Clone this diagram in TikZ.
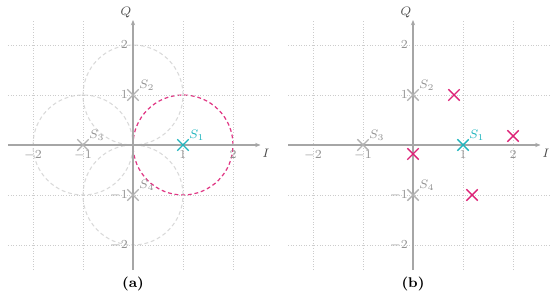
\documentclass[tikz,border=0pt]{standalone}
\usepackage{amsmath, amssymb}
\usepackage{tikz}
\usetikzlibrary{arrows.meta, positioning, shapes.misc}

\definecolor{symCyan}{HTML}{1FB5BE}
\definecolor{symMag}{HTML}{DD2277}

\begin{document}
\begin{tikzpicture}[>={Stealth[length=3pt, width=2.4pt]}, font=\scriptsize,
    gridline/.style={gray!40, densely dotted, line width=0.5pt},
    axis/.style={gray!70, line width=0.75pt},
    tick/.style={text=gray!85, inner sep=1pt},
    ring/.style={gray!30, line width=0.6pt, dash pattern=on 2.2pt off 1.6pt},
    xmark/.style={cross out, draw, minimum size=0.2cm, inner sep=0pt,
                  line width=0.8pt},
    symlabel/.style={inner sep=0.5pt}]
  \useasboundingbox (-2.66,-3.02) rectangle (8.34,2.9);

  % (a) decision circles
  \draw[ring] (0,1) circle (1);
  \draw[ring] (-1,0) circle (1);
  \draw[ring] (0,-1) circle (1);
  \draw[ring, symMag!90, line width=0.7pt] (1,0) circle (1);

  % both panels share grid, axes and the reference symbols
  \foreach \p/\ox in {a/0, b/5.6} {
    \begin{scope}[xshift=\ox cm]
      \foreach \x in {-2,-1,1,2}
        \draw[gridline] (\x,-2.5) -- (\x,2.5);
      \foreach \y in {-2,-1,1,2}
        \draw[gridline] (-2.5,\y) -- (2.75,\y);

      \draw[axis, ->] (-2.5,0) -- (2.55,0) coordinate (\p-iend);
      \draw[axis, ->] (0,-2.5) -- (0,2.5) coordinate (\p-qend);
      \node[text=gray!60!black] (\p-ilab) at (2.66,-0.16) {$I$};
      \node[text=gray!60!black] (\p-qlab) at (-0.14,2.66) {$Q$};

      \foreach \x in {-2,-1,1,2}
        \node[tick, below] (\p-xt\x) at (\x,-0.07) {$\x$};
      \foreach \y in {-2,-1,1,2}
        \node[tick, anchor=east] (\p-yt\y) at (-0.06,\y) {$\y$};

      \node[xmark, gray!60] (\p-s2) at (0,1) {};
      \node[xmark, gray!60] (\p-s3) at (-1,0) {};
      \node[xmark, gray!60] (\p-s4) at (0,-1) {};
      \node[xmark, symCyan] (\p-s1) at (1,0) {};
      \node[symlabel, text=gray!85, above right=-1.5pt and -0.5pt of \p-s2] {$S_2$};
      \node[symlabel, text=gray!85, above right=-1.5pt and -0.5pt of \p-s3] {$S_3$};
      \node[symlabel, text=gray!85, above right=-1.5pt and -0.5pt of \p-s4] {$S_4$};
      \node[symlabel, text=symCyan, above right=-1.5pt and -0.5pt of \p-s1] {$S_1$};

      \node[font=\footnotesize\bfseries] (\p-cap) at (0,-2.78) {(\p)};
    \end{scope}
  }

  % (b) received samples
  \begin{scope}[xshift=5.6cm]
    \node[xmark, symMag] (r1) at (0.82,1) {};
    \node[xmark, symMag] (r2) at (2,0.18) {};
    \node[xmark, symMag] (r3) at (0,-0.18) {};
    \node[xmark, symMag] (r4) at (1.18,-1) {};
  \end{scope}
\end{tikzpicture}
\end{document}
